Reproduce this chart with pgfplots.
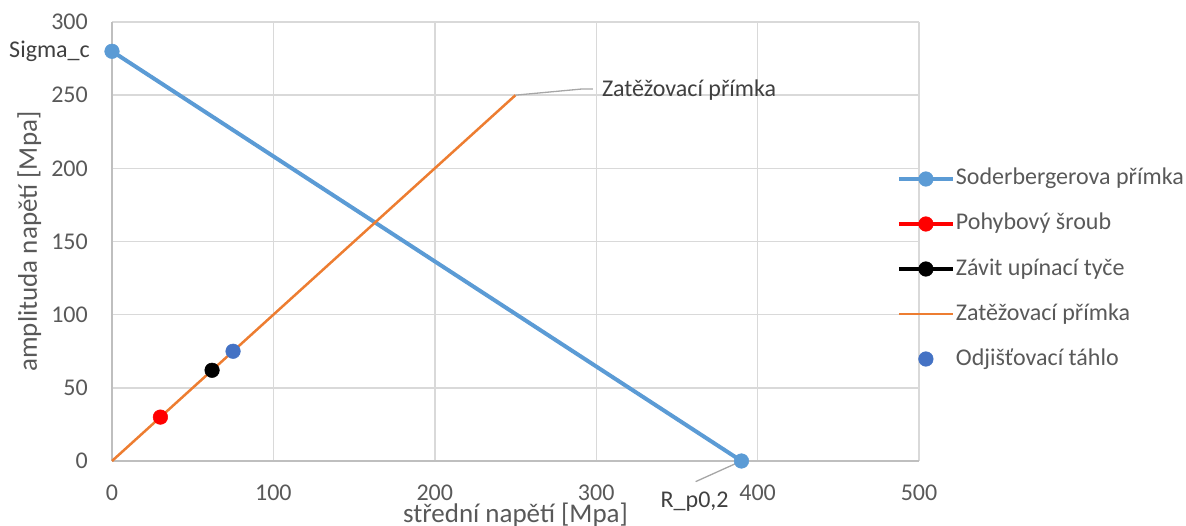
\documentclass[border=0pt]{standalone}
\usepackage{pgfplots}
\pgfplotsset{compat=1.18}
\usepackage{fontspec}
\setmainfont{Carlito}
\definecolor{sod}{HTML}{5B9BD5}
\definecolor{ora}{HTML}{ED7D31}
\definecolor{blu}{HTML}{4472C4}
\definecolor{grd}{HTML}{D9D9D9}
\definecolor{axc}{HTML}{BFBFBF}
\definecolor{txt}{HTML}{595959}
\definecolor{ann}{HTML}{404040}
\definecolor{lead}{HTML}{A6A6A6}
\newcommand\fs{\fontsize{24bp}{28bp}\selectfont}
\newcommand\fsL{\fontsize{27bp}{31bp}\selectfont}
\pgfplotsset{
  lmleg/.style={legend image code/.code={\draw[mark repeat=2, mark phase=2, ##1] plot coordinates {(0bp,0bp) (27bp,0bp) (54bp,0bp)};}},
  lnleg/.style={legend image code/.code={\draw[##1] (0bp,0bp) -- (54bp,0bp);}},
}
\begin{document}
\begin{tikzpicture}
\path[use as bounding box] (0,0) rectangle (1186bp,526bp);
\begin{axis}[
  at={(112bp,65bp)}, anchor=south west,
  scale only axis, width=807bp, height=439bp,
  xmin=0, xmax=500, ymin=0, ymax=300,
  xtick={0,100,...,500}, ytick={0,50,...,300},
  major tick length=0pt,
  grid=major, grid style={grd, line width=1.4bp},
  axis x line=bottom, axis y line=left,
  axis line style={-, axc, line width=1.5bp},
  clip=false,
  /pgf/number format/assume math mode=true,
  ticklabel style={font=\fs, text=txt},
  xticklabel style={anchor=base, inner sep=0pt, yshift=-39bp},
  yticklabel style={anchor=east, inner sep=0pt, xshift=-24bp},
  xlabel={střední napětí [Mpa]},
  ylabel={amplituda napětí [Mpa]},
  xlabel style={at={(axis description cs:0.5,0)}, anchor=base, yshift=-61bp, font=\fsL, text=txt, inner sep=0pt},
  ylabel style={at={([xshift=-75bp]axis description cs:0,0.5)}, anchor=base, font=\fsL, text=txt, inner sep=0pt},
  legend style={at={(axis description cs:0.9724,0.6656)}, anchor=north west,
    draw=none, fill=none, inner sep=0pt, font=\fs, text=txt, row sep=25bp,
    nodes={inner sep=0pt, text height=16bp, text depth=4bp},
    /tikz/every odd column/.append style={column sep=1bp}},
  legend cell align=left,
]
\addplot[sod, line width=4bp, mark=*, mark size=7.3bp, mark options={line width=0.5bp, fill=sod}, lmleg]
  coordinates {(0,280) (390,0)};
\addlegendentry{Soderbergerova přímka}
\addplot[red, line width=4bp, mark=*, mark size=7.3bp, mark options={line width=0.5bp, fill=red}, lmleg]
  coordinates {(30,30)};
\addlegendentry{Pohybový šroub}
\addplot[black, line width=4bp, mark=*, mark size=7.3bp, mark options={line width=0.5bp, fill=black}, lmleg]
  coordinates {(62,62)};
\addlegendentry{Závit upínací tyče}
\addplot[ora, line width=2.5bp, lnleg]
  coordinates {(0,0) (250,250)};
\addlegendentry{Zatěžovací přímka}
\addplot[blu, only marks, mark=*, mark size=7.3bp, mark options={line width=0.5bp, fill=blu}, lmleg]
  coordinates {(75,75)};
\addlegendentry{Odjišťovací táhlo}

\draw[lead, line width=1.3bp] (axis cs:250,250) -- (axis cs:291,254.2) -- (axis cs:298,254.2);
\node[anchor=base west, font=\fs, text=ann, inner sep=0pt] at (axis cs:303.5,249.4) {Zatěžovací přímka};
\draw[lead, line width=1.3bp] (axis cs:390,0) -- (axis cs:361.6,-14.1);
\node[anchor=base, font=\fs, text=ann, inner sep=0pt] at (axis cs:361,-32.1) {R\_p0,2};
\node[anchor=base east, font=\fs, text=ann, inner sep=0pt] at (axis cs:-13.6,275.4) {Sigma\_c};
\end{axis}
\end{tikzpicture}
\end{document}
